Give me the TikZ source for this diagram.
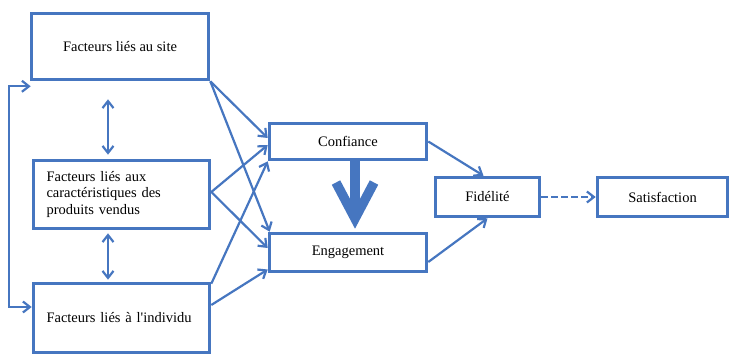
\documentclass[tikz,border=0pt]{standalone}
\usepackage{fontspec}
\setmainfont{Liberation Serif}
\usetikzlibrary{arrows.meta}
\definecolor{cadreblue}{RGB}{70,118,192}
\tikzset{>={Straight Barb[length=7pt,width=11pt]}}
\tikzset{
    facteur/.style={draw=cadreblue, line width=3.6pt, fill=white,
        minimum width=176pt, minimum height=68pt, inner sep=0pt,
        font=\fontsize{14.5}{16.5}\selectfont},
    etape/.style={draw=cadreblue, line width=3.6pt, fill=white,
        minimum height=37pt, inner sep=0pt,
        font=\fontsize{14.5}{16.5}\selectfont},
    lien/.style={draw=cadreblue, line width=2.2pt, ->},
}

\begin{document}
\begin{tikzpicture}[x=1pt,y=-1pt]
    \useasboundingbox (0,0) rectangle (730,358);
    % facteurs
    \node[facteur, minimum width=177pt, minimum height=66pt] (site) at (120,46.5) {Facteurs liés au site};
    \node[facteur, text width=150pt, align=left] (produits) at (121.5,194.5) {Facteurs liés aux\\caractéristiques des\\produits vendus};
    \node[facteur, minimum height=69pt, text width=150pt, align=left] (individu) at (121.5,318) {Facteurs liés à l\textquotesingle individu};
    % etapes
    \node[etape, minimum width=157pt, minimum height=36pt] (confiance) at (348,141.5) {Confiance};
    \node[etape, minimum width=157pt, minimum height=38pt] (engagement) at (348,252.5) {Engagement};
    \node[etape, minimum width=104pt, minimum height=39pt] (fidelite) at (487.5,197) {Fidélité};
    \node[etape, minimum width=130pt, minimum height=39pt] (satisfaction) at (662.5,197) {Satisfaction};

    \draw[lien, <->] ([xshift=-12pt,yshift=-18pt]site.south) -- ([xshift=-13.5pt,yshift=4pt]produits.north);
    \draw[lien, <->] ([xshift=-13.5pt,yshift=-3pt]produits.south) -- ([xshift=-13.5pt,yshift=2pt]individu.north);
    \draw[lien, <->] ([xshift=1pt,yshift=-5pt]site.south west) -- ++(-22,0) |- ([yshift=11pt]individu.west);

    \draw[lien] (site.south east) -- ([yshift=3.5pt]confiance.west);
    \draw[lien] (site.south east) -- ([xshift=2pt]engagement.north west);
    \draw[lien] ([yshift=2.5pt]produits.east) -- ([yshift=-3.5pt]confiance.west);
    \draw[lien] ([yshift=2.5pt]produits.east) -- ([yshift=4.5pt]engagement.west);
    \draw[lien] ([yshift=-2pt]individu.north east) -- (confiance.south west);
    \draw[lien] ([yshift=13pt]individu.east) -- ([yshift=-17pt]engagement.west);

    \draw[draw=cadreblue, line width=9.5pt, -{Straight Barb[length=36pt,width=38pt]}] ([xshift=7pt]confiance.south) -- ([xshift=7pt,yshift=3pt]engagement.north);

    \draw[lien] (confiance.east) -- ([xshift=-4pt]fidelite.north);
    \draw[lien] ([yshift=-9.5pt]engagement.east) -- (fidelite.south);
    \draw[lien, dashed, dash pattern=on 7pt off 3pt] (fidelite.east) -- (satisfaction.west);
\end{tikzpicture}
\end{document}
